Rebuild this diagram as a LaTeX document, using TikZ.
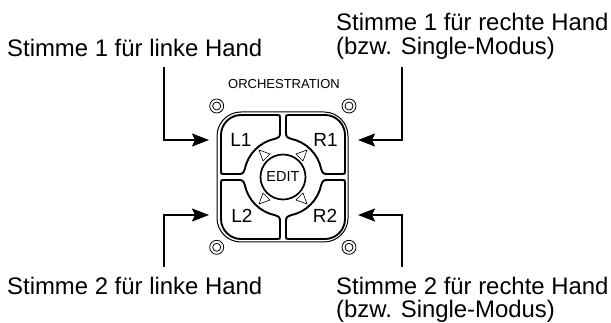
\documentclass[tikz,border=0pt]{standalone}
\usepackage{fontspec}
\setmainfont{Liberation Sans}
\usetikzlibrary{arrows.meta}
\tikzset{
  lbl/.style={inner sep=0pt,font=\fontsize{23.9}{23.5}\selectfont,align=left},
  keytxt/.style={inner sep=0pt,font=\fontsize{19}{23}\selectfont},
  pfeil/.style={line width=1.9pt,-{Stealth[inset=3pt,length=17pt,width=13pt]}},
  keyrim/.style={line width=1.9pt},
  screw/.style={line width=.8pt,fill=white}
}
\begin{document}
\begin{tikzpicture}[x=1pt,y=-1pt]
      \useasboundingbox (0,0) rectangle (611,323);
      % rim
      \draw[line width=1pt,rounded corners=24pt] (217,112) rectangle (348,242);
      % the four keys
      \foreach \sx/\sy in {1/1,-1/1,1/-1,-1/-1}{
        \begin{scope}[shift={(283,177)},xscale=\sx,yscale=\sy]
          \draw[keyrim] (-42,-62) -- (-6,-62) .. controls (-3,-62) .. (-3,-59) -- (-3,-44)
            .. controls (-3,-40.5) and (-4,-39.5) .. (-8,-38.2)
            .. controls (-23.2,-35) and (-35,-23.2) .. (-38.2,-8)
            .. controls (-39.5,-4) and (-40.5,-3) .. (-44,-3) -- (-59,-3)
            .. controls (-62,-3) .. (-62,-6) -- (-62,-42)
            .. controls (-62,-53) and (-53,-62) .. cycle;
          \draw[line width=.6pt] (-24,-27) -- (-13,-23) -- (-20,-16) -- cycle;
        \end{scope}
      }
      \node[circle,draw,line width=1.7pt,minimum size=45pt,inner sep=0pt,font=\fontsize{14.5}{18}\selectfont] (edit) at (283,177) {EDIT};
      \node[keytxt] (l1) at (241,140) {L1};
      \node[keytxt] (r1) at (325.5,140) {R1};
      \node[keytxt] (l2) at (242,215.5) {L2};
      \node[keytxt] (r2) at (325,215.5) {R2};
      \node[inner sep=0pt,font=\fontsize{13}{15}\selectfont] (orch) at (284,84.5) {ORCHESTRATION};
      % screws
      \foreach \n/\px/\py in {a/216.7/106,b/349/106,c/216.7/247.3,d/349/247.3}{
        \node[circle,draw,screw,minimum size=14pt,inner sep=0pt] (\n) at (\px,\py) {};
        \node[circle,draw,screw,minimum size=8pt,inner sep=0pt] at (\px,\py) {};
      }
      % labels
      \node[lbl,anchor=base west] (hl1) at (7,57) {Stimme 1 für linke Hand};
      \node[lbl,anchor=base west] (hr1) at (336,54.5) {Stimme 1 für rechte Hand\\(bzw. Single-Modus)};
      \node[lbl,anchor=base west] (hl2) at (7,295) {Stimme 2 für linke Hand};
      \node[lbl,anchor=base west] (hr2) at (336,318) {Stimme 2 für rechte Hand\\(bzw. Single-Modus)};
      % arrows
      \coordinate (sl1) at (164,67);
      \coordinate (sr1) at (402,67);
      \coordinate (sl2) at (164,267);
      \coordinate (sr2) at (402,267);
      \coordinate (tl1) at (209,140);
      \coordinate (tr1) at (358,140);
      \coordinate (tl2) at (209,215);
      \coordinate (tr2) at (358,215);
      \draw[pfeil] (sl1) |- (tl1);
      \draw[pfeil] (sr1) |- (tr1);
      \draw[pfeil] (sl2) |- (tl2);
      \draw[pfeil] (sr2) |- (tr2);
    \end{tikzpicture}
\end{document}
